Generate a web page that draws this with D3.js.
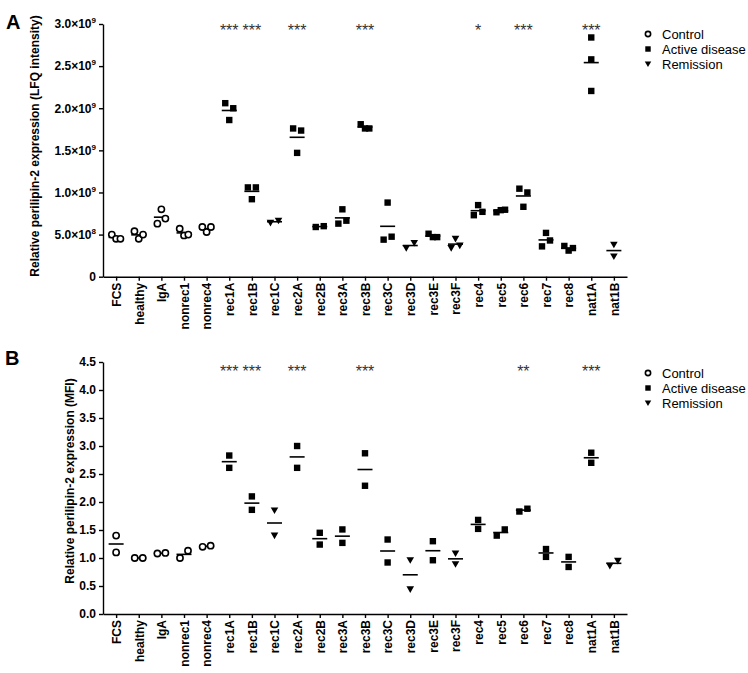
<!DOCTYPE html>
<html><head><meta charset="utf-8">
<script src="https://cdn.jsdelivr.net/npm/d3@7"></script>
<style>body{margin:0;background:#fff}svg{display:block}</style>
</head><body>
<script>
const categories = ["FCS","healthy","IgA","nonrec1","nonrec4","rec1A","rec1B","rec1C","rec2A","rec2B","rec3A","rec3B","rec3C","rec3D","rec3E","rec3F","rec4","rec5","rec6","rec7","rec8","nat1A","nat1B"];
const groupType = ["Control","Control","Control","Control","Control","Active disease","Active disease","Remission","Active disease","Active disease","Active disease","Active disease","Active disease","Remission","Active disease","Remission","Active disease","Active disease","Active disease","Active disease","Active disease","Active disease","Remission"];
const legendItems = ["Control","Active disease","Remission"];

// Panel A values in units of 1e9 (LFQ intensity)
const valuesA = [
  [0.50,0.45,0.45],[0.54,0.45,0.50],[0.63,0.69,0.80],[0.57,0.49,0.50],[0.59,0.53,0.59],
  [2.06,2.00,1.86],[1.06,1.06,0.92],[0.64,0.665],[1.76,1.735,1.47],[0.59,0.60],
  [0.63,0.665,0.80],[1.81,1.76,1.76],[0.88,0.44,0.475],[0.34,0.40],[0.51,0.47,0.47],
  [0.34,0.45,0.37],[0.73,0.85,0.77],[0.765,0.79,0.795],[1.045,1.00,0.83],[0.36,0.52,0.43],
  [0.365,0.31,0.34],[2.84,2.58,2.205],[0.38,0.24]
];
// Panel B values (MFI)
const valuesB = [
  [1.40,1.10],[1.00,1.00],[1.08,1.09],[1.00,1.13],[1.20,1.22],
  [2.83,2.61],[2.10,1.86],[1.85,1.40],[3.00,2.61],[1.45,1.24],
  [1.51,1.27],[2.87,2.29],[1.33,0.92],[0.96,0.44],[1.30,0.96],
  [1.08,0.89],[1.68,1.52],[1.40,1.51],[1.83,1.88],[1.16,1.02],
  [1.02,0.84],[2.88,2.70],[0.86,0.95]
];
const starsA = {rec1A:"***",rec1B:"***",rec2A:"***",rec3B:"***",rec4:"*",rec6:"***",nat1A:"***"};
const starsB = {rec1A:"***",rec1B:"***",rec2A:"***",rec3B:"***",rec6:"**",nat1A:"***"};

const yTicksA = [0,0.5,1.0,1.5,2.0,2.5,3.0];
const yTickMantA = ["0","5.0","1.0","1.5","2.0","2.5","3.0"];
const yTickExpA = ["","8","9","9","9","9","9"];
const yTicksB = [0,0.5,1.0,1.5,2.0,2.5,3.0,3.5,4.0,4.5];

const FONT = "'Liberation Sans', Arial, Helvetica, sans-serif";
const W = 748, H = 673;
const svg = d3.select("body").append("svg").attr("width",W).attr("height",H)
  .style("font-family",FONT);

function drawMarker(sel, type, cx, cy, scale) {
  scale = scale || 1;
  if (type === "Control") {
    sel.append("circle").attr("cx",cx).attr("cy",cy).attr("r",3.1*scale)
      .attr("fill","#fff").attr("stroke","#000").attr("stroke-width",1.6);
  } else if (type === "Active disease") {
    const s = 6.4*scale;
    sel.append("rect").attr("x",cx-s/2).attr("y",cy-s/2).attr("width",s).attr("height",s).attr("fill","#000");
  } else {
    const w = 3.8*scale, h1 = 3*scale, h2 = 3.6*scale;
    sel.append("path").attr("d",`M${cx-w},${cy-h1}L${cx+w},${cy-h1}L${cx},${cy+h2}Z`).attr("fill","#000");
  }
}

function offsets(vals, y) {
  const idx = vals.map((v,i)=>i).sort((a,b)=>y(vals[a])-y(vals[b]));
  const clusters = [];
  let cur = [idx[0]];
  for (let k=1;k<idx.length;k++){
    if (Math.abs(y(vals[idx[k]])-y(vals[idx[k-1]])) < 7.5) cur.push(idx[k]);
    else { clusters.push(cur); cur=[idx[k]]; }
  }
  clusters.push(cur);
  const off = new Array(vals.length).fill(0);
  clusters.forEach(c=>{
    c.sort((a,b)=>a-b);
    const n=c.length, sp = n===2?8:4.3;
    c.forEach((i,j)=>{ off[i]=(j-(n-1)/2)*sp; });
  });
  return off;
}

function drawPanel(opt) {
  const g = svg.append("g");
  const x = d3.scalePoint().domain(categories).range([103,627]).padding(0.58);
  const y = d3.scaleLinear().domain(opt.yDomain).range(opt.yRange);

  const ya = g.append("g").attr("transform",`translate(103,0)`)
    .call(d3.axisLeft(y).tickValues(opt.yTicks).tickSize(4).tickSizeOuter(0).tickFormat(opt.tickFmt || (d=>d)));
  ya.select(".domain").attr("stroke-width",1.4);
  ya.selectAll(".tick line").attr("stroke-width",1.4);
  ya.selectAll(".tick text").attr("font-size",12).attr("font-weight","bold").attr("font-family",FONT).attr("fill","#000");
  if (opt.expLabels) {
    ya.selectAll(".tick text").each(function(d,i){
      const t = d3.select(this); t.text(null);
      t.append("tspan").text(opt.mant[i] + (opt.exps[i] ? "×10" : ""));
      if (opt.exps[i]) t.append("tspan").text(opt.exps[i]).attr("font-size",8).attr("dy",-5);
    });
  }
  const xa = g.append("g").attr("transform",`translate(0,${opt.yRange[0]})`)
    .call(d3.axisBottom(x).tickSize(4).tickSizeOuter(0));
  xa.select(".domain").attr("stroke-width",1.4);
  xa.selectAll(".tick line").attr("stroke-width",1.4);
  xa.selectAll(".tick text").attr("font-size",12).attr("font-weight","bold").attr("font-family",FONT).attr("fill","#000")
    .attr("transform","rotate(-90)").attr("x",-6).attr("y",0).attr("dy","0.36em").style("text-anchor","end");

  g.append("text").attr("transform",`translate(${opt.titleX},${opt.titleY}) rotate(-90)`)
    .attr("text-anchor","middle").attr("font-size",12).attr("font-weight","bold").text(opt.yTitle);
  g.append("text").attr("x",opt.letterX).attr("y",opt.letterY).attr("font-size",20).attr("font-weight","bold").text(opt.letter);

  categories.forEach((c,i)=>{
    const vals = opt.values[i];
    const cx = x(c);
    const off = offsets(vals,y);
    const mean = d3.mean(vals);
    g.append("line").attr("x1",cx-7.5).attr("x2",cx+7.5).attr("y1",y(mean)).attr("y2",y(mean))
      .attr("stroke","#000").attr("stroke-width",1.6);
    vals.forEach((v,j)=> drawMarker(g, groupType[i], cx+off[j], y(v)));
    if (opt.stars[c]) {
      g.append("text").attr("x",cx).attr("y",opt.starY).attr("text-anchor","middle")
        .attr("font-size",16).attr("fill","#333").text(opt.stars[c]);
    }
  });

  legendItems.forEach((name,k)=>{
    const ly = opt.legendY + k*15;
    drawMarker(g, name, 648, ly, 0.85);
    g.append("text").attr("x",662).attr("y",ly).attr("dy","0.35em").attr("font-size",13).text(name);
  });
}

drawPanel({
  values: valuesA, yDomain:[0,3], yRange:[276.7,24], yTicks:yTicksA,
  expLabels:true, mant:yTickMantA, exps:yTickExpA,
  yTitle:"Relative perilipin-2 expression (LFQ intensity)", titleX:39, titleY:146,
  letter:"A", letterX:6, letterY:29, stars:starsA, starY:36, legendY:34
});
drawPanel({
  values: valuesB, yDomain:[0,4.5], yRange:[614,362], yTicks:yTicksB,
  tickFmt: d3.format(".1f"),
  yTitle:"Relative perilipin-2 expression (MFI)", titleX:74, titleY:481,
  letter:"B", letterX:5, letterY:365, stars:starsB, starY:377, legendY:373
});
</script>
</body></html>
